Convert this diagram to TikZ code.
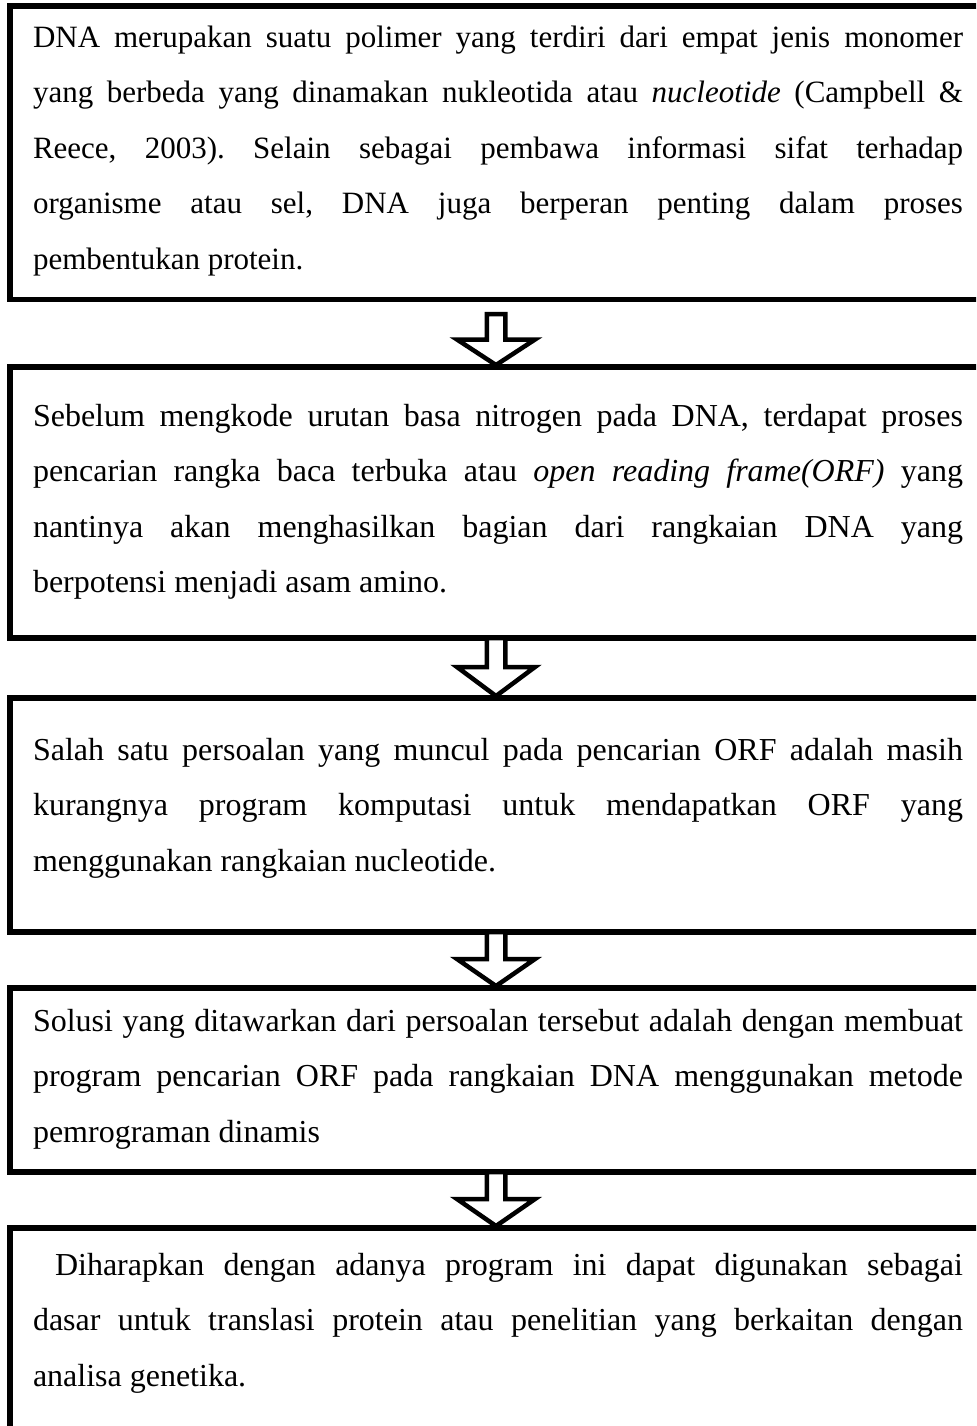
\documentclass[tikz,border=0pt]{standalone}
\usepackage{fontspec}
\setmainfont{Liberation Serif}
\usetikzlibrary{calc}
\tikzset{
  box/.style={draw, line width=2.75pt, rectangle, anchor=north west,
    minimum width=495pt, inner sep=0pt, outer sep=0pt},
  txt/.style={anchor=base west, inner sep=0pt, outer sep=0pt, text width=465pt,
    align=justify, font=\fontsize{16pt}{27.75pt}\selectfont,
    execute at begin node={\frenchspacing\hyphenpenalty=10000\relax\exhyphenpenalty=10000\relax}},
  smalltxt/.style={txt, font=\fontsize{15.5pt}{27.75pt}\selectfont},
  blockarrow/.style={draw, line width=2.25pt, fill=white, line join=miter,
    to path={let \p1=(\tikztostart), \p2=(\tikztotarget),
      \p3=($(\tikztostart)!0.5!(\tikztotarget)$) in
      (\x1-4.625pt,\y1) -- (\x1-4.625pt,\y3) -- (\x1-19.5pt,\y3) -- (\x2,\y2)
      -- (\x1+19.5pt,\y3) -- (\x1+4.625pt,\y3) -- (\x1+4.625pt,\y1) -- cycle}}
}
\begin{document}
\begin{tikzpicture}[x=0.5pt,y=-0.5pt]
\useasboundingbox (0,0) rectangle (976,1426);
\clip (0,0) rectangle (976,1426);
\fill[white] (0,0) rectangle (976,1426);
\coordinate (ax) at (496,0);
% boxes
\node[box, minimum height=146.75pt] (b1) at (10,6) {};
\node[box, minimum height=135.5pt] (b2) at (10,367) {};
\node[box, minimum height=117pt] (b3) at (10,698) {};
\node[box, minimum height=92pt] (b4) at (10,988) {};
\node[box, minimum height=106pt] (b5) at (10,1228) {};
% texts
\node[smalltxt] (t1) at (33,47) {DNA merupakan suatu polimer yang terdiri dari empat jenis monomer\linebreak
yang berbeda yang dinamakan nukleotida atau \textit{nucleotide} (Campbell \&\linebreak
Reece, 2003). Selain sebagai pembawa informasi sifat terhadap\linebreak
organisme atau sel, DNA juga berperan penting dalam proses\linebreak
pembentukan protein.};
\node[txt] (t2) at (33,426) {Sebelum mengkode urutan basa nitrogen pada DNA, terdapat proses\linebreak
pencarian rangka baca terbuka atau \textit{open reading frame(ORF)} yang\linebreak
nantinya akan menghasilkan bagian dari rangkaian DNA yang\linebreak
berpotensi menjadi asam amino.};
\node[txt] (t3) at (33,760) {Salah satu persoalan yang muncul pada pencarian ORF adalah masih\linebreak
kurangnya program komputasi untuk mendapatkan ORF yang\linebreak
menggunakan rangkaian nucleotide.};
\node[txt] (t4) at (33,1031) {Solusi yang ditawarkan dari persoalan tersebut adalah dengan membuat\linebreak
program pencarian ORF pada rangkaian DNA menggunakan metode\linebreak
pemrograman dinamis};
\node[txt] (t5) at (33,1275) {\hspace*{11pt}Diharapkan dengan adanya program ini dapat digunakan sebagai\linebreak
dasar untuk translasi protein atau penelitian yang berkaitan dengan\linebreak
analisa genetika.};
% arrows
\draw[blockarrow] ($(b1.south -| ax)+(0,14.5)$) to ($(b2.north -| ax)+(0,-2)$);
\draw[blockarrow] (b2.south -| ax) to ($(b3.north -| ax)+(0,-2)$);
\draw[blockarrow] (b3.south -| ax) to ($(b4.north -| ax)+(0,-2)$);
\draw[blockarrow] (b4.south -| ax) to ($(b5.north -| ax)+(0,-2)$);
\end{tikzpicture}
\end{document}
